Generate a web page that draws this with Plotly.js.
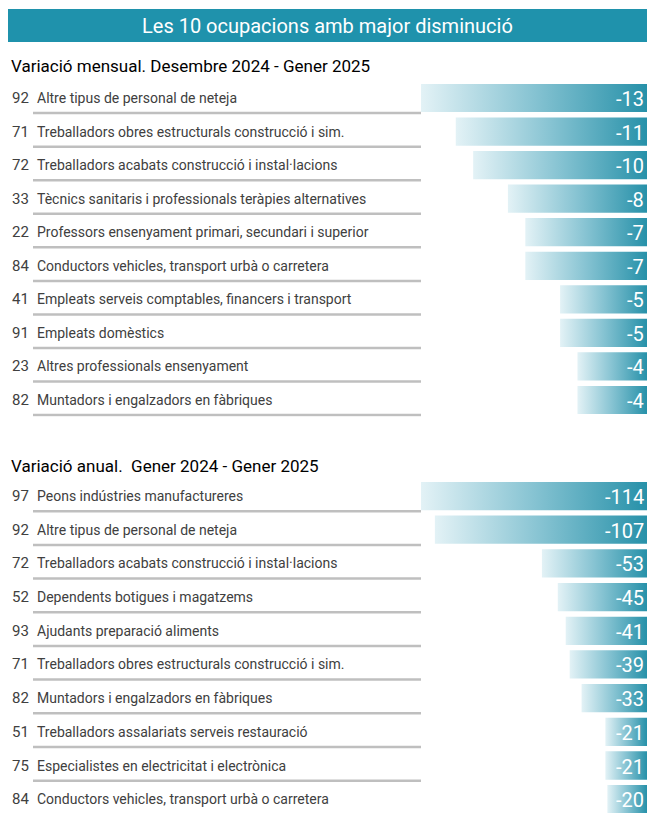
<!DOCTYPE html>
<html>
<head>
<meta charset="utf-8">
<script src="https://cdn.plot.ly/plotly-3.0.1.min.js"></script>
<style>
  body { margin: 0; padding: 0; background: #fff; }
  #graph { width: 647px; height: 813px; }
</style>
</head>
<body>
<div id="graph"></div>
<script>
const monthCodes = ["92", "71", "72", "33", "22", "84", "41", "91", "23", "82"];
const monthLabels = [
  "Altre tipus de personal de neteja",
  "Treballadors obres estructurals construcció i sim.",
  "Treballadors acabats construcció i instal·lacions",
  "Tècnics sanitaris i professionals teràpies alternatives",
  "Professors ensenyament primari, secundari i superior",
  "Conductors vehicles, transport urbà o carretera",
  "Empleats serveis comptables, financers i transport",
  "Empleats domèstics",
  "Altres professionals ensenyament",
  "Muntadors i engalzadors en fàbriques",
];
const monthValues = [-13, -11, -10, -8, -7, -7, -5, -5, -4, -4];

const yearCodes = ["97", "92", "72", "52", "93", "71", "82", "51", "75", "84"];
const yearLabels = [
  "Peons indústries manufactureres",
  "Altre tipus de personal de neteja",
  "Treballadors acabats construcció i instal·lacions",
  "Dependents botigues i magatzems",
  "Ajudants preparació aliments",
  "Treballadors obres estructurals construcció i sim.",
  "Muntadors i engalzadors en fàbriques",
  "Treballadors assalariats serveis restauració",
  "Especialistes en electricitat i electrònica",
  "Conductors vehicles, transport urbà o carretera",
];
const yearValues = [-114, -107, -53, -45, -41, -39, -33, -21, -21, -20];

const W = 647;
const H = 813;
const font = "Roboto, sans-serif";
const barStart = 421 / W; // where the longest bar begins
const half = 0.42;

const traces = [];
const shapes = [];
const annotations = [];

function section(codes, labels, values, xref, yref) {
  const maxAbs = Math.max(...values.map(Math.abs));
  const min = -maxAbs / (1 - barStart);
  values.forEach((v, i) => {
    traces.push({
      type: "scatter",
      mode: "lines",
      x: [v, 0, 0, v, v],
      y: [i - half, i - half, i + half, i + half, i - half],
      xaxis: xref,
      yaxis: yref,
      fill: "toself",
      fillgradient: {
        type: "horizontal",
        colorscale: [[0, "#e3f2f6"], [0.5, "#86c3d2"], [1, "#2791a9"]],
      },
      line: { width: 0 },
      hoverinfo: "skip",
      showlegend: false,
    });
    annotations.push({
      xref: xref, yref: yref, x: 0, y: i,
      xanchor: "right", yanchor: "middle", xshift: -1, yshift: -1,
      text: String(v), showarrow: false,
      font: { family: font, size: 20, color: "#ffffff" },
    });
    annotations.push({
      xref: "paper", yref: yref, x: 10 / W, y: i,
      xanchor: "left", yanchor: "middle",
      text: codes[i], showarrow: false,
      font: { family: font, size: 15, color: "#404040" },
    });
    annotations.push({
      xref: "paper", yref: yref, x: 35 / W, y: i,
      xanchor: "left", yanchor: "middle",
      text: labels[i], showarrow: false,
      font: { family: font, size: 14, color: "#404040" },
    });
    // separator from x=33px to the start of the longest bar
    shapes.push({
      type: "line", xref: xref, yref: yref,
      x0: min * (1 - 33 / W), x1: -maxAbs,
      y0: i + 0.45, y1: i + 0.45,
      line: { color: "#bfbfbf", width: 2.5 },
    });
  });
  return min;
}

const monthMin = section(monthCodes, monthLabels, monthValues, "x", "y");
const yearMin = section(yearCodes, yearLabels, yearValues, "x2", "y2");

// title bar
shapes.push({
  type: "rect", xref: "paper", yref: "paper",
  x0: 8 / W, x1: 1, y0: 1 - 42 / H, y1: 1 - 9 / H,
  fillcolor: "#1f92ac", line: { width: 0 }, layer: "below",
});
annotations.push({
  xref: "paper", yref: "paper", x: (8 + W) / 2 / W, y: 1 - 25.5 / H,
  xanchor: "center", yanchor: "middle", showarrow: false,
  text: "Les 10 ocupacions amb major disminució",
  font: { family: font, size: 20, color: "#ffffff" },
});
annotations.push({
  xref: "paper", yref: "paper", x: 9 / W, y: 1 - 66 / H,
  xanchor: "left", yanchor: "middle", showarrow: false,
  text: "Variació mensual. Desembre 2024 - Gener 2025",
  font: { family: font, size: 17, color: "#000000" },
});
annotations.push({
  xref: "paper", yref: "paper", x: 9 / W, y: 1 - 466 / H,
  xanchor: "left", yanchor: "middle", showarrow: false,
  text: "Variació anual.  Gener 2024 - Gener 2025",
  font: { family: font, size: 17, color: "#000000" },
});

const hidden = {
  showgrid: false, zeroline: false, showticklabels: false,
  showline: false, ticks: "", fixedrange: true,
};

const layout = {
  width: W,
  height: H,
  margin: { l: 0, r: 0, t: 0, b: 0 },
  paper_bgcolor: "#ffffff",
  plot_bgcolor: "rgba(0,0,0,0)",
  showlegend: false,
  xaxis: Object.assign({}, hidden, { domain: [0, 1], range: [monthMin, 0], anchor: "y" }),
  yaxis: Object.assign({}, hidden, {
    domain: [1 - 416.8 / H, 1 - 81.2 / H], range: [9.5, -0.5], anchor: "x",
  }),
  xaxis2: Object.assign({}, hidden, { domain: [0, 1], range: [yearMin, 0], anchor: "y2" }),
  yaxis2: Object.assign({}, hidden, {
    domain: [0, 1 - 479.2 / H], range: [9.41, -0.5], anchor: "x2",
  }),
  shapes: shapes,
  annotations: annotations,
};

Plotly.newPlot("graph", traces, layout, { displayModeBar: false, staticPlot: true });
</script>
</body>
</html>
